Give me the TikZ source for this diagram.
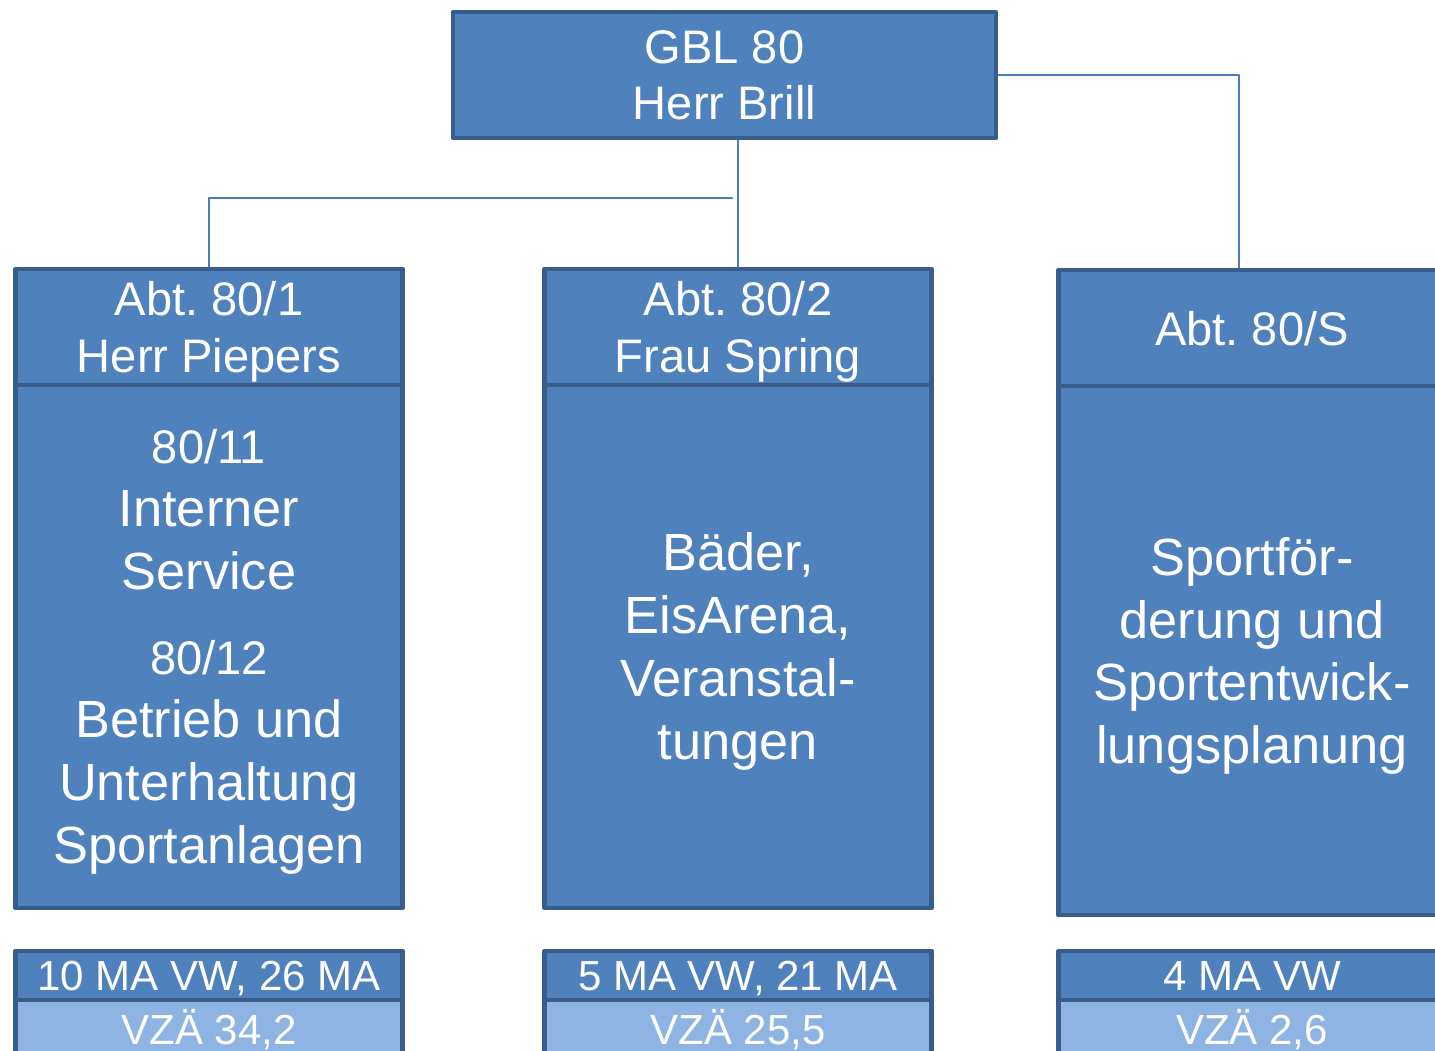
\documentclass[tikz,border=0pt]{standalone}
\usepackage{fontspec}
\setmainfont{Liberation Sans}
\definecolor{boxfill}{HTML}{4F81BD}
\definecolor{boxline}{HTML}{385D8A}
\definecolor{boxlight}{HTML}{8EB4E3}
\definecolor{linkline}{HTML}{4A7EBB}
\frenchspacing

\begin{document}
\begin{tikzpicture}[line cap=round,line join=round,
    unit/.style={rectangle, draw=boxline, line width=1.3pt, fill=boxfill, text=white,
        inner sep=0pt, align=center, text depth=0pt, minimum width=3.87cm},
    headbox/.style={unit, minimum height=1.16cm, font=\fontsize{13.4}{16.1}\selectfont},
    bodybox/.style={unit, font=\fontsize{14.9}{17.9}\selectfont},
    staffbox/.style={unit, minimum height=0.49cm, font=\fontsize{11.95}{14}\selectfont},
    fteline/.style={unit, fill=boxlight, minimum height=0.53cm, font=\fontsize{11.95}{14}\selectfont},
    link/.style={draw=linkline, line width=0.6pt}]
    \useasboundingbox (0,0) rectangle (14.35,-10.51);

    \node[unit, minimum width=5.43cm, minimum height=1.26cm, font=\fontsize{13.4}{16.1}\selectfont]
        (gbl) at (7.245,-0.75) {GBL 80\\Herr Brill};

    % Abteilung 80/1
    \node[headbox] (abt1) at (2.09,-3.27) {Abt. 80/1\\Herr Piepers};
    \node[bodybox, minimum height=5.23cm] (task1) at (2.09,-6.463)
        {{\fontsize{13.4}{17.9}\selectfont 80/11}\\Interner\\Service\\[6.3pt]
         {\fontsize{13.4}{17.9}\selectfont 80/12}\\Betrieb und\\Unterhaltung\\Sportanlagen};
    \node[staffbox] (staff1) at (2.09,-9.756) {10 MA VW, 26 MA};
    \node[fteline] (fte1) at (2.09,-10.265) {VZÄ 34,2};

    % Abteilung 80/2
    \node[headbox] (abt2) at (7.38,-3.27) {Abt. 80/2\\Frau Spring};
    \node[bodybox, minimum height=5.23cm] (task2) at (7.38,-6.463)
        {Bäder,\\EisArena,\\Veranstal-\\tungen};
    \node[staffbox] (staff2) at (7.38,-9.756) {5 MA VW, 21 MA};
    \node[fteline] (fte2) at (7.38,-10.265) {VZÄ 25,5};

    % Abteilung 80/S
    \node[headbox] (abts) at (12.52,-3.28) {Abt. 80/S};
    \node[bodybox, minimum height=5.29cm] (tasks) at (12.52,-6.505)
        {Sportför-\\derung und\\Sportentwick-\\lungsplanung};
    \node[staffbox] (staffs) at (12.52,-9.756) {4 MA VW};
    \node[fteline] (ftes) at (12.52,-10.265) {VZÄ 2,6};

    \coordinate (split) at (7.32,-1.98);
    \draw[link] (gbl.south -| abt2.north) -- (abt2.north);
    \draw[link] (split) -| (abt1.north);
    \draw[link] (gbl.east) -| ([xshift=-0.13cm]abts.north);
\end{tikzpicture}
\end{document}
